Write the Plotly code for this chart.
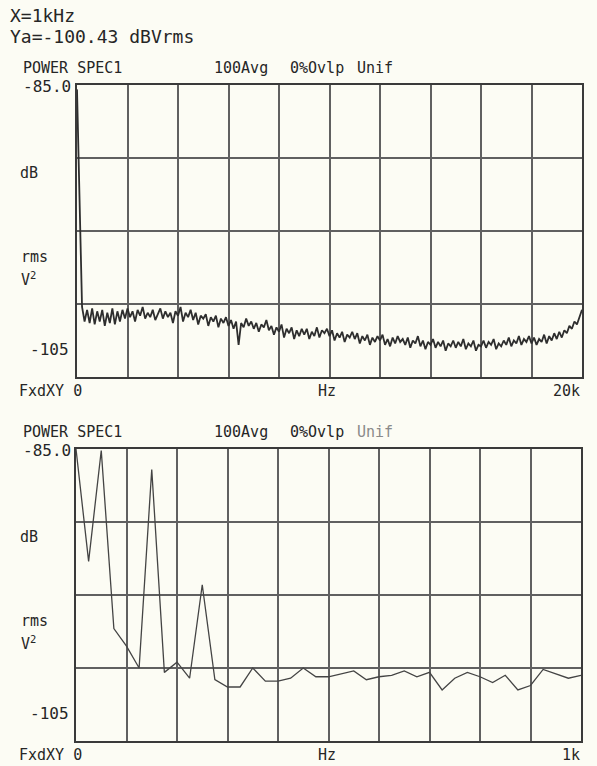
import plotly.graph_objects as go

# ---------------- data ----------------
# Top panel: power spectrum 0..20 kHz, 100 Hz spacing (dB Vrms^2)
top_freq_hz = [i * 100 for i in range(201)]
top_db = [
    -85.3, -93.8, -100.2, -101.2, -100.4, -101.3, -100.3, -101.4, -100.5, -101.2,
    -100.4, -101.5, -100.6, -101.3, -100.3, -101.4, -100.5, -101.2, -100.4, -101.0,
    -100.3, -100.9, -100.5, -101.2, -100.4, -100.8, -100.2, -101.0, -100.6, -100.9,
    -100.4, -101.1, -100.7, -100.3, -101.0, -100.5, -100.9, -100.6, -101.3, -100.5,
    -100.8, -100.2, -101.2, -100.6, -100.9, -100.4, -101.1, -100.6, -101.4, -100.8,
    -101.0, -100.7, -101.5, -100.9, -101.2, -100.8, -101.6, -101.0, -101.3, -100.9,
    -101.5, -101.1, -101.7, -101.2, -102.8, -101.3, -101.6, -101.0, -101.5, -101.2,
    -101.7, -101.3, -101.9, -101.4, -101.6, -101.1, -101.8, -101.5, -102.1, -101.6,
    -101.9, -101.4, -102.3, -101.7, -102.0, -101.6, -102.4, -101.8, -102.2, -101.7,
    -102.1, -101.7, -102.4, -101.9, -102.2, -101.6, -102.3, -101.8, -102.0, -101.7,
    -102.2, -101.8, -102.5, -102.0, -102.3, -101.9, -102.6, -102.1, -102.3, -101.9,
    -102.4, -102.0, -102.7, -102.2, -102.5, -102.1, -102.8, -102.3, -102.6, -102.2,
    -102.5, -102.1, -102.8, -102.4, -102.9, -102.3, -102.7, -102.2, -102.6, -102.4,
    -102.8, -102.3, -103.0, -102.5, -102.7, -102.2, -102.9, -102.5, -103.1, -102.6,
    -102.8, -102.4, -103.0, -102.6, -102.9, -102.5, -103.2, -102.7, -102.9, -102.5,
    -103.0, -102.6, -102.9, -102.4, -103.1, -102.7, -102.9, -102.5, -103.2, -102.8,
    -102.9, -102.5, -103.0, -102.6, -102.8, -102.4, -103.1, -102.7, -102.9, -102.5,
    -102.8, -102.3, -102.9, -102.5, -102.7, -102.2, -102.8, -102.4, -102.6, -102.2,
    -102.7, -102.3, -102.8, -102.4, -102.6, -102.1, -102.7, -102.2, -102.5, -102.0,
    -102.4, -101.9, -102.3, -101.8, -102.0, -101.5, -101.7, -101.2, -101.4, -100.9,
    -100.4,
]

# Bottom panel: power spectrum 0..1 kHz, 25 Hz spacing (dB Vrms^2)
bot_freq_hz = [i * 25 for i in range(41)]
bot_db = [
    -85.0, -92.7, -85.1, -97.3, -98.5, -100.0, -86.4, -100.3, -99.6, -100.7,
    -94.3, -100.8, -101.3, -101.3, -100.0, -100.9, -100.9, -100.7, -100.0, -100.6,
    -100.6, -100.4, -100.2, -100.8, -100.6, -100.5, -100.2, -100.6, -100.3, -101.5,
    -100.7, -100.3, -100.6, -101.0, -100.5, -101.5, -101.2, -100.1, -100.4, -100.7,
    -100.5,
]

y_range = [-105, -85]
top_span = [0, 20000]
bot_span = [0, 1000]

# ---------------- layout helpers ----------------
W, H = 597, 766
def px(x):
    return x / W
def py(y):
    return 1 - y / H

BG = "#fcfcf4"
INK = "#262626"
GRID = "#606060"
FONT = "DejaVu Sans Mono"

fig = go.Figure()
fig.add_trace(go.Scatter(x=top_freq_hz, y=top_db, mode="lines",
                         line=dict(color="#2e2e2e", width=1.8),
                         xaxis="x", yaxis="y", hoverinfo="skip"))
fig.add_trace(go.Scatter(x=bot_freq_hz, y=bot_db, mode="lines",
                         line=dict(color="#444444", width=1.3),
                         xaxis="x2", yaxis="y2", hoverinfo="skip"))

axis_common = dict(showgrid=True, gridcolor=GRID, gridwidth=2,
                   showline=True, linecolor="#3a3a3a", linewidth=2, mirror=True,
                   showticklabels=False, ticks="", zeroline=False, fixedrange=True)

fig.update_layout(
    width=W, height=H,
    margin=dict(l=0, r=0, t=0, b=0),
    paper_bgcolor=BG, plot_bgcolor=BG,
    showlegend=False,
    xaxis=dict(domain=[px(77), px(582)], range=top_span, dtick=2000, anchor="y", **axis_common),
    yaxis=dict(domain=[py(377), py(85)], range=y_range, dtick=5, anchor="x", **axis_common),
    xaxis2=dict(domain=[px(76), px(581)], range=bot_span, dtick=100, anchor="y2", **axis_common),
    yaxis2=dict(domain=[py(741), py(449)], range=y_range, dtick=5, anchor="x2", **axis_common),
)

def txt(x, y, s, size=15, color=INK, anchor="left"):
    fig.add_annotation(x=px(x), y=py(y), xref="paper", yref="paper", text=s,
                       showarrow=False, xanchor=anchor, yanchor="middle",
                       font=dict(family=FONT, size=size, color=color))

# header
txt(8, 15, "X=1kHz", size=18)
txt(8, 36, "Ya=-100.43 dBVrms", size=18)

def panel_labels(top_y, x_right_label, unif_color):
    txt(21, top_y - 17, "POWER SPEC1")
    txt(212, top_y - 17, "100Avg")
    txt(288, top_y - 17, "0%Ovlp")
    txt(355, top_y - 17, "Unif", color=unif_color)
    txt(73, top_y + 1, "-85.0", size=16, anchor="right")
    txt(18, top_y + 88, "dB")
    txt(19, top_y + 172, "rms")
    txt(19, top_y + 194, "V<sup>2</sup>")
    txt(71, top_y + 264, "-105", size=16, anchor="right")
    txt(17, top_y + 306, "FxdXY 0")
    txt(316, top_y + 306, "Hz")
    txt(582, top_y + 306, x_right_label, anchor="right")

panel_labels(85, "20k", INK)
panel_labels(449, "1k", "#8a8a8a")

fig.write_html(
    "out.html",
    config={"displayModeBar": False, "staticPlot": True},
    post_script="document.body.style.margin='0';document.body.style.background='%s';" % BG,
)
